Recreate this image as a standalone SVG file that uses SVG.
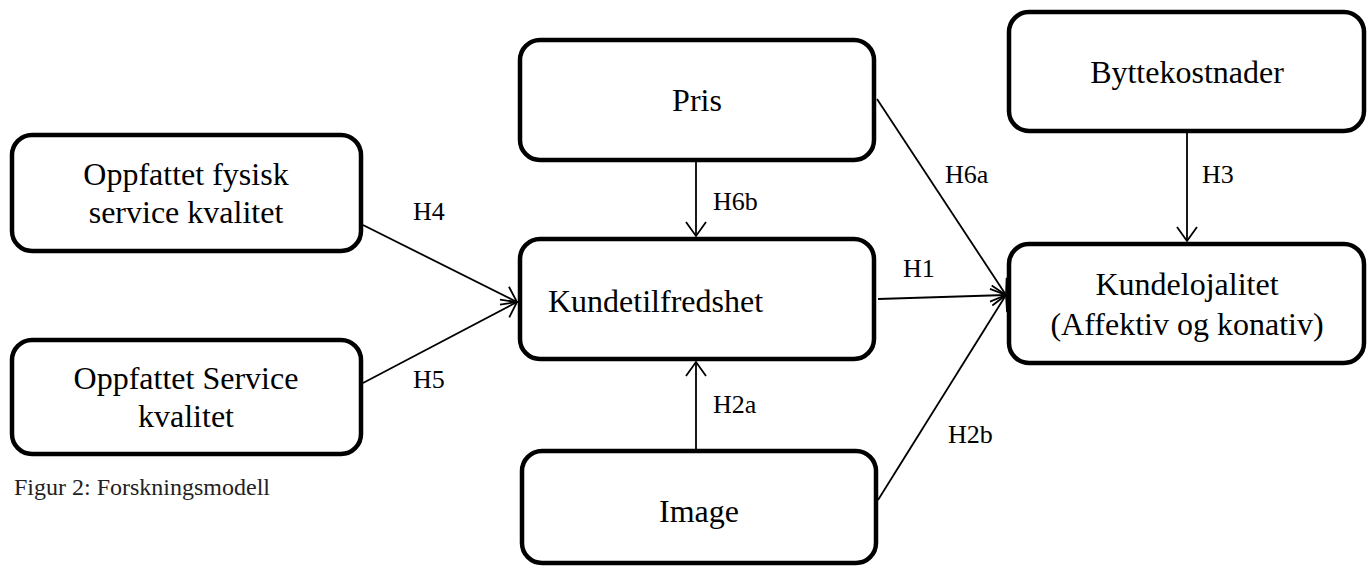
<svg xmlns="http://www.w3.org/2000/svg" width="1372" height="567" viewBox="0 0 1372 567">
  <style>
    .box { fill: #fff; stroke: #000; stroke-width: 4.5; }
    .lbl { font-family: "Liberation Serif", serif; font-size: 32px; fill: #000; }
    .h { font-family: "Liberation Serif", serif; font-size: 26px; fill: #000; }
    .edge { stroke: #000; stroke-width: 1.8; fill: none; marker-end: url(#arrow); }
    .cap { font-family: "Liberation Serif", serif; font-size: 24px; fill: #222; }
  </style>
  <defs>
    <marker id="arrow" markerUnits="userSpaceOnUse" markerWidth="30" markerHeight="30" refX="0" refY="0" viewBox="-16 -15 20 30" orient="auto">
      <path d="M-14,-10 L0,0 L-14,10" fill="none" stroke="#000" stroke-width="1.8"/>
    </marker>
  </defs>
  <rect width="1372" height="567" fill="#fff"/>

  <g id="connectors">
    <line class="edge" x1="363" y1="225" x2="517" y2="302"/>
    <line class="edge" x1="363" y1="383" x2="517" y2="302"/>
    <line class="edge" x1="696" y1="162" x2="696" y2="236"/>
    <line class="edge" x1="696" y1="449" x2="696" y2="362"/>
    <line class="edge" x1="877" y1="99" x2="1006" y2="295"/>
    <line class="edge" x1="878" y1="299" x2="1006" y2="295"/>
    <line class="edge" x1="878" y1="500" x2="1006" y2="295"/>
    <line class="edge" x1="1187" y1="133" x2="1187" y2="241"/>
    <text class="h" x="413" y="220">H4</text>
    <text class="h" x="413" y="388">H5</text>
    <text class="h" x="713" y="210">H6b</text>
    <text class="h" x="713" y="413">H2a</text>
    <text class="h" x="945" y="183">H6a</text>
    <text class="h" x="903" y="277">H1</text>
    <text class="h" x="948" y="443">H2b</text>
    <text class="h" x="1202" y="183">H3</text>
  </g>

  <g id="fysisk">
    <rect class="box" x="12" y="135" width="349" height="116" rx="20"/>
    <text class="lbl" x="186" y="185" text-anchor="middle">Oppfattet fysisk</text>
    <text class="lbl" x="186" y="223" text-anchor="middle">service kvalitet</text>
  </g>

  <g id="service">
    <rect class="box" x="12" y="340" width="349" height="114" rx="20"/>
    <text class="lbl" x="186" y="389" text-anchor="middle">Oppfattet Service</text>
    <text class="lbl" x="186" y="427" text-anchor="middle">kvalitet</text>
  </g>

  <g id="pris">
    <rect class="box" x="520" y="40" width="354" height="120" rx="20"/>
    <text class="lbl" x="697" y="111" text-anchor="middle">Pris</text>
  </g>

  <g id="kundetilfredshet">
    <rect class="box" x="520" y="239" width="354" height="120" rx="20"/>
    <text class="lbl" x="548" y="312">Kundetilfredshet</text>
  </g>

  <g id="image">
    <rect class="box" x="522" y="451" width="354" height="112" rx="20"/>
    <text class="lbl" x="699" y="522" text-anchor="middle">Image</text>
  </g>

  <g id="byttekostnader">
    <rect class="box" x="1009" y="12" width="355" height="119" rx="20"/>
    <text class="lbl" x="1187" y="83" text-anchor="middle">Byttekostnader</text>
  </g>

  <g id="kundelojalitet">
    <rect class="box" x="1009" y="244" width="355" height="119" rx="20"/>
    <text class="lbl" x="1187" y="295" text-anchor="middle">Kundelojalitet</text>
    <text class="lbl" x="1187" y="335" text-anchor="middle">(Affektiv og konativ)</text>
  </g>

  <text class="cap" x="14" y="495">Figur 2: Forskningsmodell</text>
</svg>
